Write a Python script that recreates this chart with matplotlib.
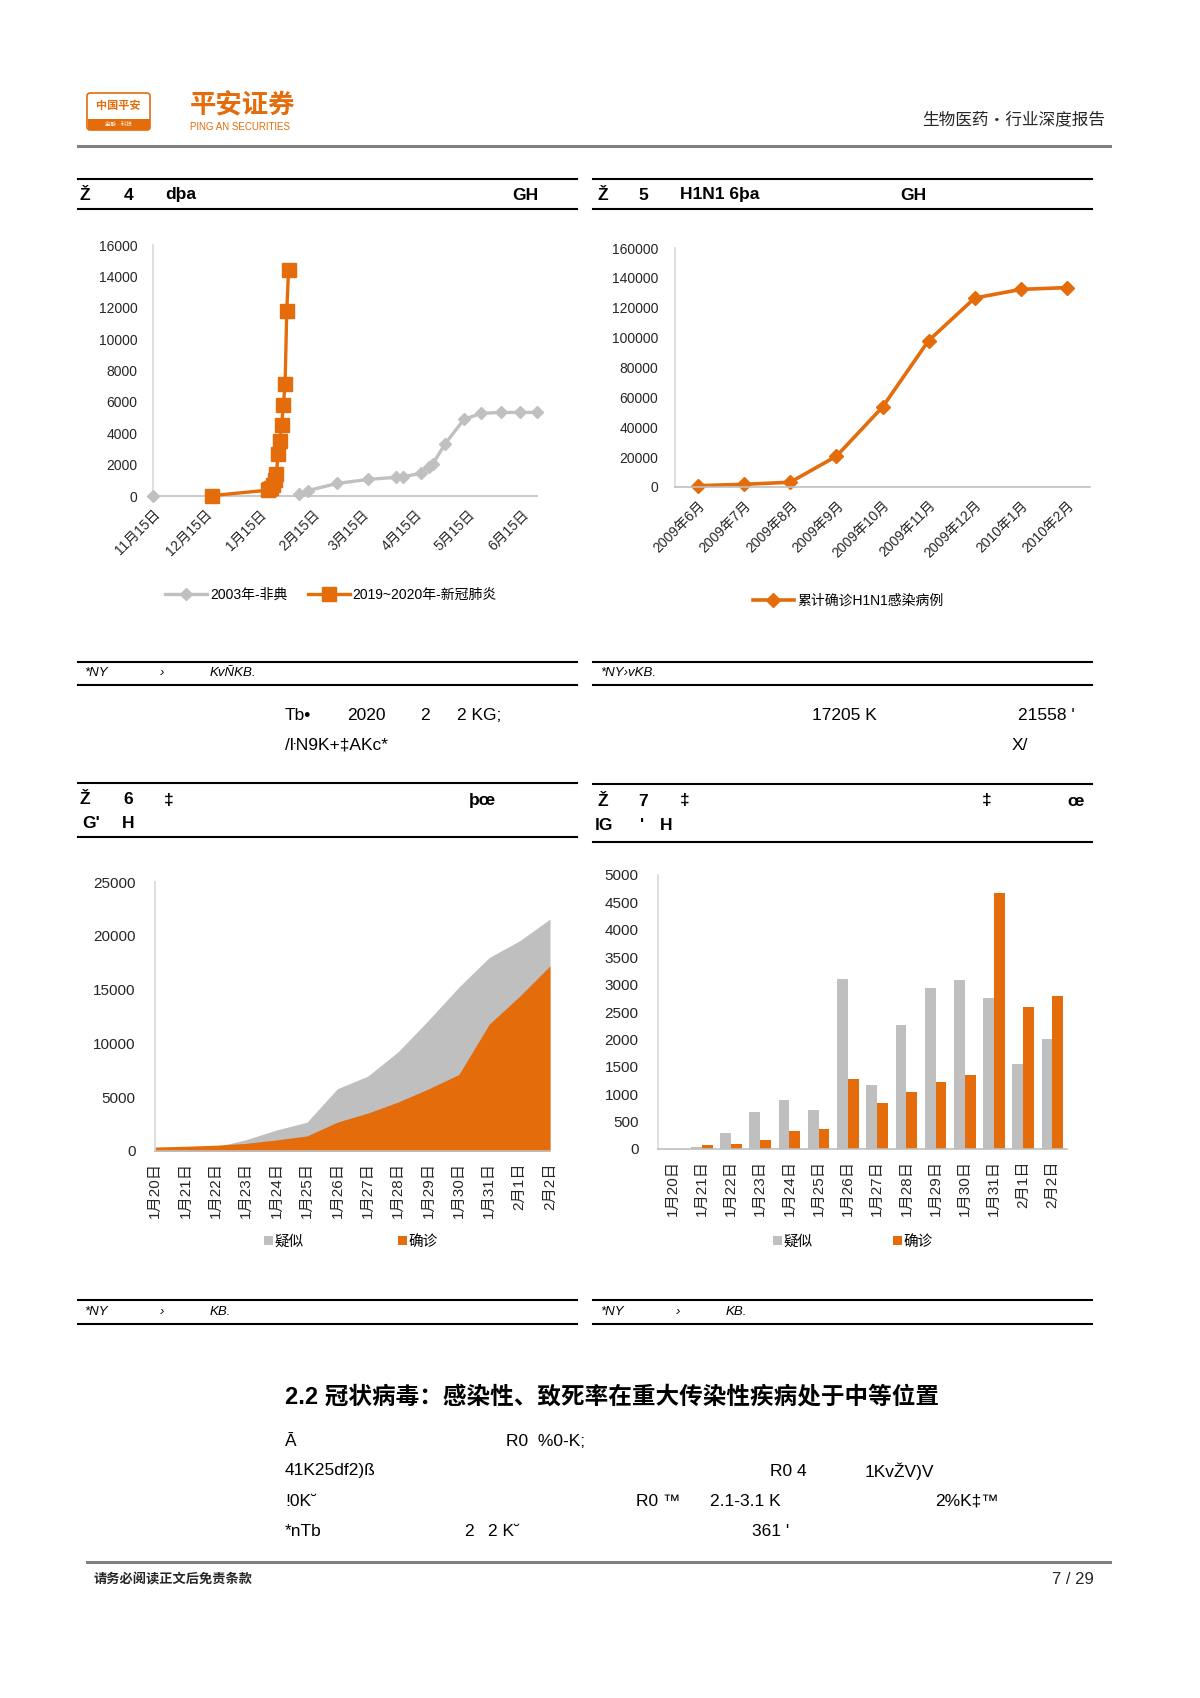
import matplotlib
matplotlib.use("Agg")
import matplotlib.pyplot as plt
import numpy as np
from matplotlib.lines import Line2D
from matplotlib.patches import Patch, Rectangle, FancyBboxPatch

plt.rcParams['font.family'] = ['Liberation Sans', 'Noto Sans CJK SC', 'DejaVu Sans']

W, H = 1200, 1698
ORANGE = '#e46c0a'
GREY = '#bfbfbf'
TXT = '#262626'

# ---- data ----
# fig 4: SARS 2003 vs 2019-nCoV, x = days after Nov 15
sars_days = [0, 40, 84, 89, 106, 124, 140, 144, 154, 159, 161, 168, 179, 189, 200, 211, 221]
sars_vals = [0, np.nan, 150, 340, 800, 1060, 1190, 1230, 1440, 1870, 2040, 3300, 4890, 5270, 5330, 5330, 5330]
ncov_days = [34, 66, 67, 68, 69, 70, 71, 72, 73, 74, 75, 76, 77, 78]
ncov_vals = [27, 370, 440, 540, 710, 1030, 1400, 2680, 3520, 4550, 5770, 7110, 11790, 14380]
month_ticks = [0, 30, 61, 92, 120, 151, 181, 212]
month_labels = ['11月15日', '12月15日', '1月15日', '2月15日', '3月15日', '4月15日', '5月15日', '6月15日']

# fig 5: H1N1
h1n1_months = ['2009年6月', '2009年7月', '2009年8月', '2009年9月', '2009年10月',
               '2009年11月', '2009年12月', '2010年1月', '2010年2月']
h1n1_vals = [900, 1800, 3200, 20600, 53500, 98000, 126500, 132300, 133500]

# fig 6/7: daily data
days = ['1月20日', '1月21日', '1月22日', '1月23日', '1月24日', '1月25日', '1月26日',
        '1月27日', '1月28日', '1月29日', '1月30日', '1月31日', '2月1日', '2月2日']
suspect_cum = [54, 90, 380, 1055, 1955, 2672, 5782, 6952, 9222, 12157, 15232, 17982, 19537, 21558]
confirm_cum = [370, 440, 540, 710, 1030, 1400, 2680, 3520, 4550, 5770, 7110, 11790, 14380, 17205]
suspect_new = [0, 36, 290, 675, 900, 717, 3110, 1170, 2270, 2935, 3075, 2750, 1555, 2010]
confirm_new = [0, 67, 97, 170, 322, 370, 1282, 838, 1033, 1221, 1343, 4678, 2600, 2794]

fig = plt.figure(figsize=(W / 100, H / 100), dpi=100)


def rect(x0, y0, x1, y1):
    return [x0 / W, 1 - y1 / H, (x1 - x0) / W, (y1 - y0) / H]


def ftext(x, y, s, **kw):
    kw.setdefault('va', 'center')
    kw.setdefault('color', 'black')
    fig.text(x / W, 1 - y / H, s, **kw)


def hline(x0, x1, y, lw=1.5, color='black'):
    fig.add_artist(Line2D([x0 / W, x1 / W], [1 - y / H, 1 - y / H], lw=lw, color=color))


def style(ax):
    for s in ['top', 'right']:
        ax.spines[s].set_visible(False)
    ax.spines['left'].set_color('#d9d9d9')
    ax.spines['bottom'].set_color('#bfbfbf')
    ax.spines['left'].set_linewidth(1.2)
    ax.spines['bottom'].set_linewidth(1.2)
    ax.tick_params(length=0, labelsize=10, colors=TXT)
    ax.set_facecolor('none')


# ---- header ----
logo = fig.add_axes(rect(86, 92, 151, 131))
logo.set_xlim(0, 65)
logo.set_ylim(39, 0)
logo.axis('off')
logo.add_patch(FancyBboxPatch((1, 1), 63, 37, boxstyle='round,pad=0,rounding_size=3',
                              fc='white', ec=ORANGE, lw=1.2))
logo.add_patch(Rectangle((1.5, 27), 62, 10.5, fc=ORANGE, ec='none'))
logo.text(32.5, 14, '中国平安', ha='center', va='center', fontsize=8, color=ORANGE, weight='bold')
logo.text(32.5, 32, '金融 · 科技', ha='center', va='center', fontsize=4, color='white')
ftext(190, 106, '平安证券', fontsize=19, color=ORANGE, weight='bold', family='Noto Sans CJK SC')
ftext(190, 127, 'PING AN SECURITIES', fontsize=7, color=ORANGE)
ftext(1105, 120, '生物医药・行业深度报告', fontsize=12, ha='right', color=TXT, family='Noto Sans CJK SC')
hline(78, 1110, 146, lw=2.2, color='#808080')

# ---- title bars, fig 4/5 ----
tb = dict(fontsize=12.5, weight='bold')
for x0, x1 in [(78, 577), (593, 1092)]:
    hline(x0, x1, 179)
    hline(x0, x1, 209)
ftext(80, 195, 'Ž', **tb)
ftext(124, 195, '4', **tb)
ftext(165, 195, 'dþa', **tb)
ftext(512, 195, 'GH', **tb)
ftext(597, 195, 'Ž', **tb)
ftext(638, 195, '5', **tb)
ftext(680, 195, 'H1N1 6þa', **tb)
ftext(900, 195, 'GH', **tb)

# ---- fig 4 ----
ax4 = fig.add_axes(rect(153, 245, 537, 496))
style(ax4)
ax4.plot(sars_days, sars_vals, color='#c0c0c0', lw=2.4, marker='D', ms=6, label='2003年-非典',
         clip_on=False, zorder=3)
ax4.plot(ncov_days, ncov_vals, color=ORANGE, lw=2.4, marker='s', ms=10, label='2019~2020年-新冠肺炎',
         clip_on=False, zorder=4)
ax4.set_xlim(0, 221)
ax4.set_ylim(0, 16000)
ax4.set_yticks(range(0, 16001, 2000))
ax4.set_xticks(month_ticks)
ax4.set_xticklabels(month_labels, rotation=45, ha='right', rotation_mode='anchor')
ax4.tick_params(axis='y', pad=11)
ax4.tick_params(axis='x', pad=8)
ax4.legend(loc='center', bbox_to_anchor=(331 / W, 1 - 595 / H), bbox_transform=fig.transFigure,
           ncol=2, frameon=False, fontsize=10, handlelength=3, columnspacing=1.5, handletextpad=0.2)

# ---- fig 5 ----
ax5 = fig.add_axes(rect(675, 248, 1090, 487))
style(ax5)
ax5.plot(range(len(h1n1_vals)), h1n1_vals, color=ORANGE, lw=2.6, marker='D', ms=7,
         label='累计确诊H1N1感染病例', clip_on=False)
ax5.set_xlim(-0.5, len(h1n1_vals) - 0.5)
ax5.set_ylim(0, 160000)
ax5.set_yticks(range(0, 160001, 20000))
ax5.set_xticks(range(len(h1n1_months)))
ax5.set_xticklabels(h1n1_months, rotation=45, ha='right', rotation_mode='anchor')
ax5.tick_params(axis='y', pad=12)
ax5.tick_params(axis='x', pad=8)
ax5.legend(loc='center', bbox_to_anchor=(848 / W, 1 - 601 / H), bbox_transform=fig.transFigure,
           frameon=False, fontsize=10, handlelength=3, handletextpad=0.2)

# ---- source / notes, fig 4/5 ----
for x0, x1 in [(78, 577), (593, 1092)]:
    hline(x0, x1, 662)
    hline(x0, x1, 685)
src = dict(fontsize=9.5, style='italic')
ftext(84, 673, '*NY', **src)
ftext(160, 673, '›', **src)
ftext(210, 673, 'KvÑKB.', **src)
ftext(600, 673, '*NY›vKB.', **src)

body = dict(fontsize=12.5)
ftext(285, 715, 'Tb•', **body)
ftext(347, 715, '2020', **body)
ftext(420, 715, '2', **body)
ftext(457, 715, '2 KG;', **body)
ftext(285, 745, '/ŀN9K+‡AKc*', **body)
ftext(812, 715, '17205 K', **body)
ftext(1018, 715, "21558 '", **body)
ftext(1012, 745, 'X/', **body)

# ---- title bars, fig 6/7 ----
hline(78, 577, 783)
hline(78, 577, 837)
hline(593, 1092, 784)
hline(593, 1092, 842)
ftext(80, 800, 'Ž', **tb)
ftext(123, 800, '6', **tb)
ftext(164, 800, '‡', **tb)
ftext(469, 800, 'þœ', **tb)
ftext(82, 823, "G'", **tb)
ftext(122, 823, 'H', **tb)
ftext(597, 801, 'Ž', **tb)
ftext(638, 801, '7', **tb)
ftext(680, 801, '‡', **tb)
ftext(982, 801, '‡', **tb)
ftext(1067, 801, 'œ', **tb)
ftext(595, 825, 'lG', **tb)
ftext(640, 825, "'", **tb)
ftext(660, 825, 'H', **tb)

# ---- fig 6 ----
ax6 = fig.add_axes(rect(155, 882, 550, 1151))
style(ax6)
x6 = np.arange(len(days))
ax6.fill_between(x6, 0, suspect_cum, color=GREY, lw=0, label='疑似')
ax6.fill_between(x6, 0, confirm_cum, color=ORANGE, lw=0, label='确诊')
ax6.set_xlim(0, len(days) - 1)
ax6.set_ylim(0, 25000)
ax6.set_yticks(range(0, 25001, 5000))
ax6.set_xticks(x6)
ax6.set_xticklabels(days, rotation=90, ha='center', va='top')
ax6.tick_params(axis='y', pad=14, labelsize=11)
ax6.tick_params(axis='x', pad=8, labelsize=11)
ax6.legend(loc='center', bbox_to_anchor=(351 / W, 1 - 1242 / H), bbox_transform=fig.transFigure,
           ncol=2, frameon=False, fontsize=10.5, handlelength=0.6, handleheight=0.6,
           handletextpad=0.1, columnspacing=6.5)

# ---- fig 7 ----
ax7 = fig.add_axes(rect(658, 875, 1067, 1149))
style(ax7)
x7 = np.arange(len(days))
bw = 0.37
ax7.bar(x7 - bw / 2, suspect_new, width=bw, color=GREY, label='疑似')
ax7.bar(x7 + bw / 2, confirm_new, width=bw, color=ORANGE, label='确诊')
ax7.set_xlim(-0.5, len(days) - 0.5)
ax7.set_ylim(0, 5000)
ax7.set_yticks(range(0, 5001, 500))
ax7.set_xticks(x7)
ax7.set_xticklabels(days, rotation=90, ha='center', va='top')
ax7.tick_params(axis='y', pad=14, labelsize=11)
ax7.tick_params(axis='x', pad=8, labelsize=11)
ax7.legend(loc='center', bbox_to_anchor=(853 / W, 1 - 1242 / H), bbox_transform=fig.transFigure,
           ncol=2, frameon=False, fontsize=10.5, handlelength=0.6, handleheight=0.6,
           handletextpad=0.1, columnspacing=5.5)

# ---- source, fig 6/7 ----
for x0, x1 in [(78, 577), (593, 1092)]:
    hline(x0, x1, 1300)
    hline(x0, x1, 1324)
for x0 in [84, 600]:
    ftext(x0, 1312, '*NY', **src)
    ftext(x0 + 76, 1312, '›', **src)
    ftext(x0 + 126, 1312, 'KB.', **src)

# ---- section 2.2 ----
ftext(285, 1397, '2.2 冠状病毒：感染性、致死率在重大传染性疾病处于中等位置', fontsize=17,
      weight='heavy', family=['Liberation Sans', 'Noto Sans CJK SC'])
ftext(285, 1441, 'Ā', **body)
ftext(506, 1441, 'R0  %0-K;', **body)
ftext(285, 1471, '41K25df2)ß', **body)
ftext(770, 1471, 'R0 4', **body)
ftext(865, 1471, '1KvŽV)V', **body)
ftext(285, 1501, '!0K˘', **body)
ftext(636, 1501, 'R0 ™', **body)
ftext(710, 1501, '2.1-3.1 K', **body)
ftext(935, 1501, '2%K‡™', **body)
ftext(285, 1531, '*nTb', **body)
ftext(464, 1531, '2', **body)
ftext(488, 1531, '2 K˘', **body)
ftext(752, 1531, "361 '", **body)

# ---- footer ----
hline(87, 1110, 1562, lw=2.2, color='#808080')
ftext(93, 1580, '请务必阅读正文后免责条款', fontsize=9.5, color=TXT, weight='bold',
      family='Noto Sans CJK SC')
ftext(1094, 1580, '7 / 29', fontsize=12, ha='right', color=TXT)

fig.savefig('out.png', dpi=100, facecolor='white')
